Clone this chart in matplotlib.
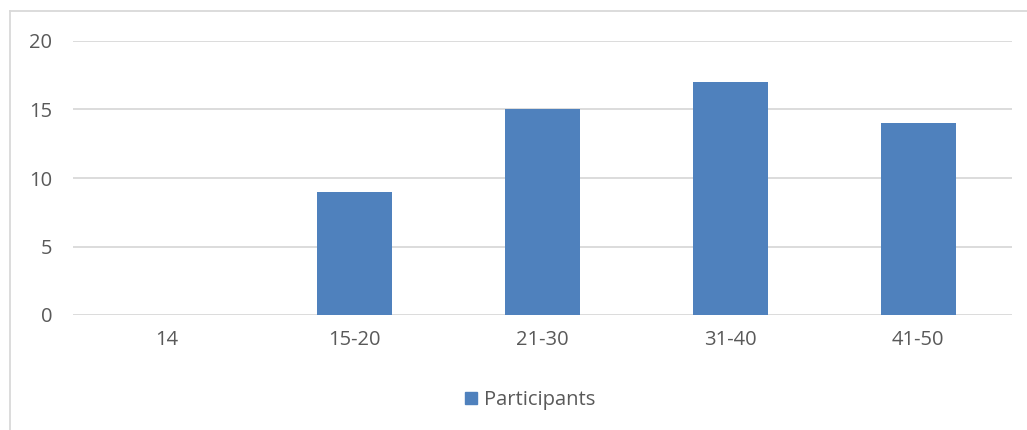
import matplotlib.pyplot as plt
from matplotlib.patches import Patch
from matplotlib.lines import Line2D

age_groups = ['14', '15-20', '21-30', '31-40', '41-50']
participants = [0, 9, 15, 17, 14]
y_ticks = [0, 5, 10, 15, 20]

bar_color = '#4f81bd'
text_color = '#595959'
grid_color = '#d9d9d9'

plt.rcParams['font.family'] = ['Open Sans', 'DejaVu Sans']

W, H = 1027, 430
fig = plt.figure(figsize=(W / 100, H / 100), dpi=100)

# plot area in pixel coordinates
left, right, top, bottom = 73, 1012, 41, 315
ax = fig.add_axes([left / W, 1 - bottom / H, (right - left) / W, (bottom - top) / H])

x = range(len(age_groups))
ax.bar(x, participants, width=0.4, color=bar_color, zorder=3)
ax.set_xlim(-0.5, len(age_groups) - 0.5)
ax.set_ylim(0, 20)
ax.set_yticks(y_ticks)
ax.set_xticks(list(x))
ax.set_xticklabels(age_groups)
ax.grid(axis='y', color=grid_color, linewidth=1.3, zorder=0)
for s in ax.spines.values():
    s.set_visible(False)
ax.tick_params(length=0, labelsize=14.5, labelcolor=text_color)
ax.tick_params(axis='y', pad=15)
ax.tick_params(axis='x', pad=11)

# chart border (left and top edges)
fig.add_artist(Line2D([9.5 / W, 9.5 / W], [0, 1 - 11 / H], transform=fig.transFigure,
                      color=grid_color, linewidth=1.3))
fig.add_artist(Line2D([9.5 / W, 1], [1 - 11 / H, 1 - 11 / H], transform=fig.transFigure,
                      color=grid_color, linewidth=1.3))

fig.legend(handles=[Patch(color=bar_color, label='Participants')],
           loc='center', bbox_to_anchor=(530 / W, 1 - 400 / H), frameon=False,
           fontsize=14.5, labelcolor=text_color, handlelength=0.6, handleheight=0.6,
           handletextpad=0.35)

fig.savefig('out.png', dpi=100)
